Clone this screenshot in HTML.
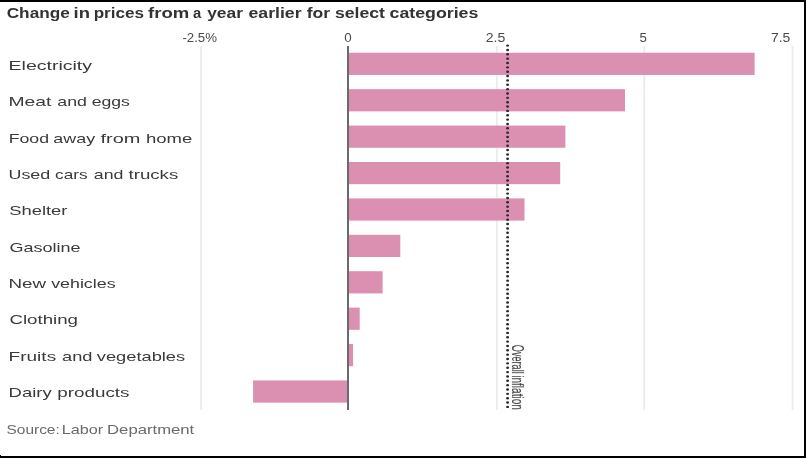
<!DOCTYPE html><html><head><meta charset="utf-8"><style>html,body{margin:0;padding:0;background:#fff;overflow:hidden;}svg{display:block;will-change:transform;font-family:"Liberation Sans",sans-serif;}</style></head><body>
<svg width="806" height="458" viewBox="0 0 806 458">
<rect x="0" y="0" width="806" height="458" fill="#fff"/>
<rect x="200.25" y="46" width="1.7" height="364" fill="#ebebeb"/>
<rect x="496.05" y="46" width="1.7" height="364" fill="#ebebeb"/>
<rect x="643.45" y="46" width="1.7" height="364" fill="#ebebeb"/>
<rect x="791.65" y="46" width="1.7" height="364" fill="#ebebeb"/>
<rect x="348.20" y="52.75" width="406.40" height="22.2" fill="#db90b1"/>
<rect x="348.20" y="89.16" width="276.80" height="22.2" fill="#db90b1"/>
<rect x="348.20" y="125.57" width="217.20" height="22.2" fill="#db90b1"/>
<rect x="348.20" y="161.98" width="212.00" height="22.2" fill="#db90b1"/>
<rect x="348.20" y="198.39" width="176.30" height="22.2" fill="#db90b1"/>
<rect x="348.20" y="234.80" width="52.10" height="22.2" fill="#db90b1"/>
<rect x="348.20" y="271.21" width="34.40" height="22.2" fill="#db90b1"/>
<rect x="348.20" y="307.62" width="11.50" height="22.2" fill="#db90b1"/>
<rect x="348.20" y="344.03" width="4.90" height="22.2" fill="#db90b1"/>
<rect x="253.10" y="380.44" width="95.10" height="22.2" fill="#db90b1"/>
<rect x="347" y="46" width="2" height="364" fill="#6a6a6a"/>
<g fill="#2a2a2a"><ellipse cx="507.6" cy="45.60" rx="1.45" ry="1.2"/><ellipse cx="507.6" cy="49.95" rx="1.45" ry="1.2"/><ellipse cx="507.6" cy="54.31" rx="1.45" ry="1.2"/><ellipse cx="507.6" cy="58.66" rx="1.45" ry="1.2"/><ellipse cx="507.6" cy="63.01" rx="1.45" ry="1.2"/><ellipse cx="507.6" cy="67.37" rx="1.45" ry="1.2"/><ellipse cx="507.6" cy="71.72" rx="1.45" ry="1.2"/><ellipse cx="507.6" cy="76.07" rx="1.45" ry="1.2"/><ellipse cx="507.6" cy="80.42" rx="1.45" ry="1.2"/><ellipse cx="507.6" cy="84.78" rx="1.45" ry="1.2"/><ellipse cx="507.6" cy="89.13" rx="1.45" ry="1.2"/><ellipse cx="507.6" cy="93.48" rx="1.45" ry="1.2"/><ellipse cx="507.6" cy="97.84" rx="1.45" ry="1.2"/><ellipse cx="507.6" cy="102.19" rx="1.45" ry="1.2"/><ellipse cx="507.6" cy="106.54" rx="1.45" ry="1.2"/><ellipse cx="507.6" cy="110.90" rx="1.45" ry="1.2"/><ellipse cx="507.6" cy="115.25" rx="1.45" ry="1.2"/><ellipse cx="507.6" cy="119.60" rx="1.45" ry="1.2"/><ellipse cx="507.6" cy="123.95" rx="1.45" ry="1.2"/><ellipse cx="507.6" cy="128.31" rx="1.45" ry="1.2"/><ellipse cx="507.6" cy="132.66" rx="1.45" ry="1.2"/><ellipse cx="507.6" cy="137.01" rx="1.45" ry="1.2"/><ellipse cx="507.6" cy="141.37" rx="1.45" ry="1.2"/><ellipse cx="507.6" cy="145.72" rx="1.45" ry="1.2"/><ellipse cx="507.6" cy="150.07" rx="1.45" ry="1.2"/><ellipse cx="507.6" cy="154.43" rx="1.45" ry="1.2"/><ellipse cx="507.6" cy="158.78" rx="1.45" ry="1.2"/><ellipse cx="507.6" cy="163.13" rx="1.45" ry="1.2"/><ellipse cx="507.6" cy="167.48" rx="1.45" ry="1.2"/><ellipse cx="507.6" cy="171.84" rx="1.45" ry="1.2"/><ellipse cx="507.6" cy="176.19" rx="1.45" ry="1.2"/><ellipse cx="507.6" cy="180.54" rx="1.45" ry="1.2"/><ellipse cx="507.6" cy="184.90" rx="1.45" ry="1.2"/><ellipse cx="507.6" cy="189.25" rx="1.45" ry="1.2"/><ellipse cx="507.6" cy="193.60" rx="1.45" ry="1.2"/><ellipse cx="507.6" cy="197.96" rx="1.45" ry="1.2"/><ellipse cx="507.6" cy="202.31" rx="1.45" ry="1.2"/><ellipse cx="507.6" cy="206.66" rx="1.45" ry="1.2"/><ellipse cx="507.6" cy="211.01" rx="1.45" ry="1.2"/><ellipse cx="507.6" cy="215.37" rx="1.45" ry="1.2"/><ellipse cx="507.6" cy="219.72" rx="1.45" ry="1.2"/><ellipse cx="507.6" cy="224.07" rx="1.45" ry="1.2"/><ellipse cx="507.6" cy="228.43" rx="1.45" ry="1.2"/><ellipse cx="507.6" cy="232.78" rx="1.45" ry="1.2"/><ellipse cx="507.6" cy="237.13" rx="1.45" ry="1.2"/><ellipse cx="507.6" cy="241.49" rx="1.45" ry="1.2"/><ellipse cx="507.6" cy="245.84" rx="1.45" ry="1.2"/><ellipse cx="507.6" cy="250.19" rx="1.45" ry="1.2"/><ellipse cx="507.6" cy="254.54" rx="1.45" ry="1.2"/><ellipse cx="507.6" cy="258.90" rx="1.45" ry="1.2"/><ellipse cx="507.6" cy="263.25" rx="1.45" ry="1.2"/><ellipse cx="507.6" cy="267.60" rx="1.45" ry="1.2"/><ellipse cx="507.6" cy="271.96" rx="1.45" ry="1.2"/><ellipse cx="507.6" cy="276.31" rx="1.45" ry="1.2"/><ellipse cx="507.6" cy="280.66" rx="1.45" ry="1.2"/><ellipse cx="507.6" cy="285.02" rx="1.45" ry="1.2"/><ellipse cx="507.6" cy="289.37" rx="1.45" ry="1.2"/><ellipse cx="507.6" cy="293.72" rx="1.45" ry="1.2"/><ellipse cx="507.6" cy="298.07" rx="1.45" ry="1.2"/><ellipse cx="507.6" cy="302.43" rx="1.45" ry="1.2"/><ellipse cx="507.6" cy="306.78" rx="1.45" ry="1.2"/><ellipse cx="507.6" cy="311.13" rx="1.45" ry="1.2"/><ellipse cx="507.6" cy="315.49" rx="1.45" ry="1.2"/><ellipse cx="507.6" cy="319.84" rx="1.45" ry="1.2"/><ellipse cx="507.6" cy="324.19" rx="1.45" ry="1.2"/><ellipse cx="507.6" cy="328.55" rx="1.45" ry="1.2"/><ellipse cx="507.6" cy="332.90" rx="1.45" ry="1.2"/><ellipse cx="507.6" cy="337.25" rx="1.45" ry="1.2"/><ellipse cx="507.6" cy="341.60" rx="1.45" ry="1.2"/><ellipse cx="507.6" cy="345.96" rx="1.45" ry="1.2"/><ellipse cx="507.6" cy="350.31" rx="1.45" ry="1.2"/><ellipse cx="507.6" cy="354.66" rx="1.45" ry="1.2"/><ellipse cx="507.6" cy="359.02" rx="1.45" ry="1.2"/><ellipse cx="507.6" cy="363.37" rx="1.45" ry="1.2"/><ellipse cx="507.6" cy="367.72" rx="1.45" ry="1.2"/><ellipse cx="507.6" cy="372.08" rx="1.45" ry="1.2"/><ellipse cx="507.6" cy="376.43" rx="1.45" ry="1.2"/><ellipse cx="507.6" cy="380.78" rx="1.45" ry="1.2"/><ellipse cx="507.6" cy="385.13" rx="1.45" ry="1.2"/><ellipse cx="507.6" cy="389.49" rx="1.45" ry="1.2"/><ellipse cx="507.6" cy="393.84" rx="1.45" ry="1.2"/><ellipse cx="507.6" cy="398.19" rx="1.45" ry="1.2"/><ellipse cx="507.6" cy="402.55" rx="1.45" ry="1.2"/><ellipse cx="507.6" cy="406.90" rx="1.45" ry="1.2"/></g>
<text x="6.70" y="17.70" font-size="14.3" font-weight="bold" fill="#333" textLength="63.14" lengthAdjust="spacingAndGlyphs">Change</text>
<text x="73.56" y="17.70" font-size="14.3" font-weight="bold" fill="#333" textLength="16.39" lengthAdjust="spacingAndGlyphs">in</text>
<text x="93.70" y="17.70" font-size="14.3" font-weight="bold" fill="#333" textLength="50.34" lengthAdjust="spacingAndGlyphs">prices</text>
<text x="148.10" y="17.70" font-size="14.3" font-weight="bold" fill="#333" textLength="41.12" lengthAdjust="spacingAndGlyphs">from</text>
<text x="192.90" y="17.70" font-size="14.3" font-weight="bold" fill="#333" textLength="8.22" lengthAdjust="spacingAndGlyphs">a</text>
<text x="207.20" y="17.70" font-size="14.3" font-weight="bold" fill="#333" textLength="35.77" lengthAdjust="spacingAndGlyphs">year</text>
<text x="248.50" y="17.70" font-size="14.3" font-weight="bold" fill="#333" textLength="53.06" lengthAdjust="spacingAndGlyphs">earlier</text>
<text x="306.70" y="17.70" font-size="14.3" font-weight="bold" fill="#333" textLength="23.37" lengthAdjust="spacingAndGlyphs">for</text>
<text x="334.90" y="17.70" font-size="14.3" font-weight="bold" fill="#333" textLength="50.01" lengthAdjust="spacingAndGlyphs">select</text>
<text x="389.50" y="17.70" font-size="14.3" font-weight="bold" fill="#333" textLength="88.84" lengthAdjust="spacingAndGlyphs">categories</text>
<text x="8.54" y="69.90" font-size="13.4" font-weight="normal" fill="#3a3a3a" textLength="83.51" lengthAdjust="spacingAndGlyphs">Electricity</text>
<text x="8.46" y="106.26" font-size="13.4" font-weight="normal" fill="#3a3a3a" textLength="42.94" lengthAdjust="spacingAndGlyphs">Meat</text>
<text x="57.30" y="106.26" font-size="13.4" font-weight="normal" fill="#3a3a3a" textLength="29.59" lengthAdjust="spacingAndGlyphs">and</text>
<text x="91.70" y="106.26" font-size="13.4" font-weight="normal" fill="#3a3a3a" textLength="38.20" lengthAdjust="spacingAndGlyphs">eggs</text>
<text x="8.68" y="142.62" font-size="13.4" font-weight="normal" fill="#3a3a3a" textLength="40.31" lengthAdjust="spacingAndGlyphs">Food</text>
<text x="53.30" y="142.62" font-size="13.4" font-weight="normal" fill="#3a3a3a" textLength="41.79" lengthAdjust="spacingAndGlyphs">away</text>
<text x="100.50" y="142.62" font-size="13.4" font-weight="normal" fill="#3a3a3a" textLength="39.93" lengthAdjust="spacingAndGlyphs">from</text>
<text x="145.90" y="142.62" font-size="13.4" font-weight="normal" fill="#3a3a3a" textLength="46.32" lengthAdjust="spacingAndGlyphs">home</text>
<text x="8.47" y="178.98" font-size="13.4" font-weight="normal" fill="#3a3a3a" textLength="41.73" lengthAdjust="spacingAndGlyphs">Used</text>
<text x="55.10" y="178.98" font-size="13.4" font-weight="normal" fill="#3a3a3a" textLength="32.61" lengthAdjust="spacingAndGlyphs">cars</text>
<text x="93.80" y="178.98" font-size="13.4" font-weight="normal" fill="#3a3a3a" textLength="29.59" lengthAdjust="spacingAndGlyphs">and</text>
<text x="128.50" y="178.98" font-size="13.4" font-weight="normal" fill="#3a3a3a" textLength="49.78" lengthAdjust="spacingAndGlyphs">trucks</text>
<text x="9.20" y="215.34" font-size="13.4" font-weight="normal" fill="#3a3a3a" textLength="58.26" lengthAdjust="spacingAndGlyphs">Shelter</text>
<text x="9.40" y="251.70" font-size="13.4" font-weight="normal" fill="#3a3a3a" textLength="71.10" lengthAdjust="spacingAndGlyphs">Gasoline</text>
<text x="8.49" y="288.06" font-size="13.4" font-weight="normal" fill="#3a3a3a" textLength="37.64" lengthAdjust="spacingAndGlyphs">New</text>
<text x="51.20" y="288.06" font-size="13.4" font-weight="normal" fill="#3a3a3a" textLength="64.39" lengthAdjust="spacingAndGlyphs">vehicles</text>
<text x="9.40" y="324.42" font-size="13.4" font-weight="normal" fill="#3a3a3a" textLength="68.62" lengthAdjust="spacingAndGlyphs">Clothing</text>
<text x="8.58" y="360.78" font-size="13.4" font-weight="normal" fill="#3a3a3a" textLength="47.59" lengthAdjust="spacingAndGlyphs">Fruits</text>
<text x="62.00" y="360.78" font-size="13.4" font-weight="normal" fill="#3a3a3a" textLength="30.41" lengthAdjust="spacingAndGlyphs">and</text>
<text x="96.80" y="360.78" font-size="13.4" font-weight="normal" fill="#3a3a3a" textLength="88.38" lengthAdjust="spacingAndGlyphs">vegetables</text>
<text x="8.62" y="397.14" font-size="13.4" font-weight="normal" fill="#3a3a3a" textLength="43.06" lengthAdjust="spacingAndGlyphs">Dairy</text>
<text x="57.30" y="397.14" font-size="13.4" font-weight="normal" fill="#3a3a3a" textLength="72.17" lengthAdjust="spacingAndGlyphs">products</text>
<text x="182.40" y="41.65" font-size="12.3" font-weight="normal" fill="#4a4a4a" textLength="34.53" lengthAdjust="spacingAndGlyphs">-2.5%</text>
<text x="344.20" y="41.65" font-size="12.3" font-weight="normal" fill="#4a4a4a" textLength="7.43" lengthAdjust="spacingAndGlyphs">0</text>
<text x="485.70" y="41.65" font-size="12.3" font-weight="normal" fill="#4a4a4a" textLength="19.62" lengthAdjust="spacingAndGlyphs">2.5</text>
<text x="639.50" y="41.65" font-size="12.3" font-weight="normal" fill="#4a4a4a" textLength="7.33" lengthAdjust="spacingAndGlyphs">5</text>
<text x="770.90" y="41.65" font-size="12.3" font-weight="normal" fill="#4a4a4a" textLength="19.42" lengthAdjust="spacingAndGlyphs">7.5</text>
<text x="6.50" y="434.20" font-size="12.4" font-weight="normal" fill="#6a6a6a" textLength="53.25" lengthAdjust="spacingAndGlyphs">Source:</text>
<text x="61.69" y="434.20" font-size="12.4" font-weight="normal" fill="#6a6a6a" textLength="41.47" lengthAdjust="spacingAndGlyphs">Labor</text>
<text x="107.05" y="434.20" font-size="12.4" font-weight="normal" fill="#6a6a6a" textLength="87.20" lengthAdjust="spacingAndGlyphs">Department</text>
<text transform="translate(511.6,0) rotate(90)" x="344.80" y="0" font-size="17" fill="#444" stroke="#444" stroke-width="0.15" textLength="28.92" lengthAdjust="spacingAndGlyphs">Overall</text>
<text transform="translate(511.6,0) rotate(90)" x="375.21" y="0" font-size="17" fill="#444" stroke="#444" stroke-width="0.15" textLength="34.66" lengthAdjust="spacingAndGlyphs">inflation</text>
<rect x="0" y="0" width="806" height="2" fill="#000"/>
<rect x="804" y="0" width="2" height="458" fill="#000"/>
<rect x="0" y="456" width="806" height="2" fill="#000"/>
<rect x="0" y="455" width="1" height="1" fill="#000"/>
</svg></body></html>
